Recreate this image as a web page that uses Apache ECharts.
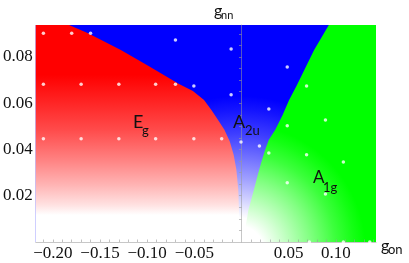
<!DOCTYPE html>
<html><head><meta charset="utf-8">
<script src="https://cdn.jsdelivr.net/npm/echarts@6/dist/echarts.min.js"></script>
<style>html,body{margin:0;padding:0;background:#fff}#c{width:409px;height:263px}</style>
</head><body><div id="c"></div>
<script>
// ---- data ----
const xRange = [-0.2181, 0.1426];
const yRange = [0, 0.0938];
const xLabelValues = [-0.20, -0.15, -0.10, -0.05, 0.05, 0.10];
const yLabelValues = [0.02, 0.04, 0.06, 0.08];
const xTickValues = [-0.21,-0.20,-0.19,-0.18,-0.17,-0.16,-0.15,-0.14,-0.13,-0.12,-0.11,-0.10,-0.09,-0.08,-0.07,-0.06,-0.05,-0.04,-0.03,-0.02,-0.01,0.01,0.02,0.03,0.04,0.05,0.06,0.07,0.08,0.09,0.10,0.11,0.12,0.13,0.14];
const yTickValues = [0.005,0.01,0.015,0.02,0.025,0.03,0.035,0.04,0.045,0.05,0.055,0.06,0.065,0.07,0.075,0.08,0.085,0.09];
// phase boundary E_g | A_2u (top to bottom)
const redBlueBoundary = [
  [-0.1828,0.0938],[-0.1632,0.0903],[-0.1279,0.0830],[-0.0985,0.0761],[-0.0662,0.0683],
  [-0.0515,0.0653],[-0.0397,0.0614],[-0.0319,0.0571],[-0.0250,0.0528],[-0.0181,0.0485],
  [-0.0123,0.0433],[-0.0083,0.0377],[-0.0054,0.0312],[-0.0034,0.0226],[-0.0015,0.0]
];
// phase boundary A_2u | A_1g (top to bottom)
const blueGreenBoundary = [
  [0.0926,0.0938],[0.0770,0.0830],[0.0583,0.0674],[0.0505,0.0614],[0.0436,0.0549],
  [0.0358,0.0485],[0.0289,0.0441],[0.0250,0.0398],[0.0211,0.0346],[0.0172,0.0290],
  [0.0132,0.0226],[0.0074,0.0139],[0.0015,0.0]
];
const samplePoints = [
  [-0.210,0.0902],[-0.180,0.0902],[-0.160,0.0902],[-0.070,0.0873],[-0.011,0.0834],[0.0485,0.0756],
  [-0.210,0.0682],[-0.170,0.0682],[-0.130,0.0682],[-0.091,0.0682],[-0.070,0.0682],[-0.0505,0.0674],
  [-0.011,0.0636],[0.069,0.0674],[0.029,0.0575],[0.089,0.0527],[0.0485,0.0502],
  [-0.210,0.0446],[-0.170,0.0446],[-0.130,0.0446],[-0.091,0.0446],[-0.0505,0.0446],[-0.021,0.0446],
  [-0.0005,0.0432],[0.019,0.0415],[0.029,0.0385],[0.069,0.0377],[0.108,0.0346],
  [0.0485,0.0256],[0.089,0.0208],[0.072,0.0],[0.108,0.0],[0.136,0.0]
];
const phaseNames = ['E', 'A', 'A'];
const phaseSubs = ['g', '2u', '1g'];
const axisNames = ['g', 'g'];
const axisSubs = ['nn', 'on'];

// ---- chart ----
const chart = echarts.init(document.getElementById('c'), null, {renderer: 'canvas'});
const serif = 'Liberation Serif';
const sans = 'Lato';
function fmt(v){ return (v < 0 ? '\u2212' : '') + Math.abs(v).toFixed(2); }

function polySeries(name, getPts, fillFn, z){
  return {
    type: 'custom', name: name, silent: true, z: z, clip: true,
    data: [[0, 0]],
    renderItem: function(params, api){
      const pts = getPts().map(p => api.coord(p));
      return {type: 'polygon', shape: {points: pts}, style: {fill: fillFn(api), stroke: null}};
    }
  };
}

const blueFill = api => {
  const c = api.coord([-0.002, -0.0025]);
  return {type: 'radial', x: c[0], y: c[1], r: 230, global: true, colorStops: [
    {offset: 0, color: '#ffffff'}, {offset: 0.13, color: '#ffffff'},
    {offset: 0.20, color: 'rgb(215,215,255)'}, {offset: 0.30, color: 'rgb(160,160,255)'},
    {offset: 0.40, color: 'rgb(110,110,255)'}, {offset: 0.50, color: 'rgb(60,60,255)'},
    {offset: 0.60, color: 'rgb(20,20,255)'}, {offset: 0.66, color: 'rgb(0,0,255)'},
    {offset: 1, color: 'rgb(0,0,255)'}]};
};
const redFill = api => {
  const t = api.coord([0, yRange[1]]), b = api.coord([0, 0]);
  return {type: 'linear', x: 0, y: t[1], x2: 0, y2: b[1], global: true, colorStops: [
    {offset: 0, color: 'rgb(255,0,0)'}, {offset: 0.23, color: 'rgb(255,0,0)'},
    {offset: 0.369, color: 'rgb(255,40,40)'}, {offset: 0.484, color: 'rgb(255,75,75)'},
    {offset: 0.622, color: 'rgb(255,130,130)'}, {offset: 0.737, color: 'rgb(255,180,180)'},
    {offset: 0.829, color: 'rgb(255,225,225)'}, {offset: 0.876, color: '#ffffff'},
    {offset: 1, color: '#ffffff'}]};
};
const greenFill = api => {
  const c = api.coord([-0.002, -0.0035]);
  return {type: 'radial', x: c[0], y: c[1], r: 140, global: true, colorStops: [
    {offset: 0, color: '#ffffff'}, {offset: 0.17, color: '#ffffff'},
    {offset: 0.32, color: 'rgb(200,255,200)'}, {offset: 0.51, color: 'rgb(130,255,130)'},
    {offset: 0.69, color: 'rgb(60,255,60)'}, {offset: 0.82, color: 'rgb(20,255,20)'},
    {offset: 0.9, color: 'rgb(0,255,0)'}, {offset: 1, color: 'rgb(0,255,0)'}]};
};

function txt(x, y, s, size, font){
  return {type: 'text', x: x, y: y, z: 50, silent: true,
    style: {text: s, fill: '#111', font: size + 'px ' + font, align: 'left', verticalAlign: 'middle'}};
}

const option = {
  animation: false,
  grid: {left: 8, right: 33, top: 25, bottom: 21, containLabel: false},
  xAxis: {
    type: 'value', min: xRange[0], max: xRange[1], z: 10,
    axisLine: {onZero: true, lineStyle: {color: '#999', opacity: 0.55, width: 1}},
    axisTick: {show: true, inside: true, length: 2.5, customValues: xTickValues, lineStyle: {color: '#999', opacity: 0.6}},
    axisLabel: {customValues: xLabelValues, formatter: fmt, margin: 3, color: '#111', fontSize: 17, fontFamily: serif},
    splitLine: {show: false}
  },
  yAxis: {
    type: 'value', min: yRange[0], max: yRange[1], z: 10,
    axisLine: {onZero: true, lineStyle: {color: '#999', opacity: 0.55, width: 1}},
    axisTick: {show: true, inside: false, length: 2.5, customValues: yTickValues, lineStyle: {color: '#999', opacity: 0.6}},
    axisLabel: {customValues: yLabelValues, formatter: fmt, margin: 3, color: '#111', fontSize: 17, fontFamily: serif},
    splitLine: {show: false}
  },
  series: [
    polySeries('A2u', () => [[xRange[0], yRange[1]], [xRange[1], yRange[1]], [xRange[1], 0], [xRange[0], 0]], blueFill, 1),
    polySeries('Eg', () => [[xRange[0], yRange[1]]].concat(redBlueBoundary, [[xRange[0], 0]]), redFill, 2),
    polySeries('A1g', () => blueGreenBoundary.concat([[xRange[1], 0], [xRange[1], yRange[1]]]), greenFill, 3),
    {type: 'scatter', silent: true, z: 20, data: samplePoints, symbolSize: 3.5, itemStyle: {color: '#ffffff'}}
  ],
  graphic: [
    txt(133, 122, phaseNames[0], 18, sans), txt(142, 131, phaseSubs[0], 13, sans),
    txt(233, 122, phaseNames[1], 18, sans), txt(245, 131, phaseSubs[1], 13, sans),
    txt(313, 178, phaseNames[2], 17, sans), txt(323, 188, phaseSubs[2], 13, sans),
    txt(214, 11, axisNames[0], 16, sans), txt(221, 15, axisSubs[0], 11, sans),
    txt(381, 246, axisNames[1], 16, sans), txt(388, 250, axisSubs[1], 13, sans)
  ]
};
chart.setOption(option);
</script></body></html>
